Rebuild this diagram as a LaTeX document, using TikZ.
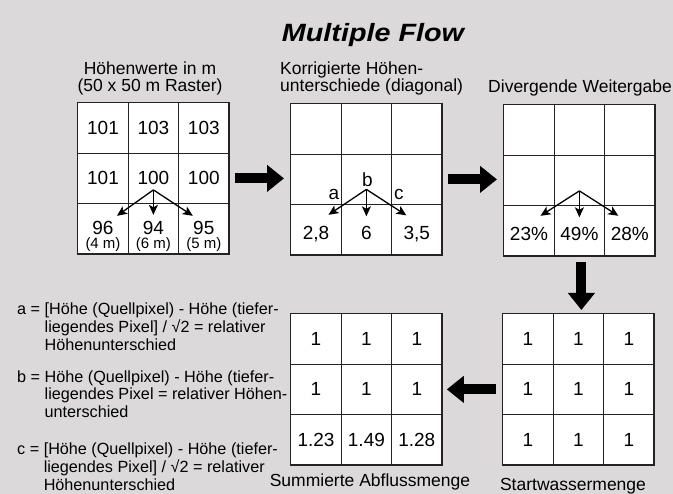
\documentclass[tikz,border=0pt]{standalone}
\usepackage{fontspec}
\setmainfont{Liberation Sans}
\usepackage{graphicx}
\usetikzlibrary{matrix,arrows.meta,calc}

\definecolor{bg}{RGB}{220,217,219}
\definecolor{gridline}{RGB}{35,35,35}

\newcommand\cellfont{\fontsize{19}{22}\selectfont}
\newcommand\headfont{\fontsize{17.5}{17.5}\selectfont}
\newcommand\notefont{\fontsize{16.2}{17.8}\selectfont}
\newcommand\subfont{\fontsize{15}{16}\selectfont}

\begin{document}
\begin{tikzpicture}[x=1pt,y=-1pt,
  cell/.style={draw=gridline, line width=1.2pt, fill=white, minimum size=50.4pt,
    inner sep=0pt, font=\cellfont},
  grid/.style={matrix of nodes, nodes in empty cells, nodes={cell},
    column sep=-1.2pt, row sep=-1.2pt, inner sep=0pt, anchor=north west},
  flow/.style={line width=1.3pt, draw=black,
    -{Stealth[length=10pt,width=9pt,inset=2.5pt]}},
  bigarrow/.style={line width=10pt, draw=black,
    -{Triangle[length=17pt,width=26pt]}},
  head/.style={font=\headfont, inner sep=0pt},
  val/.style={font=\cellfont, inner sep=0pt, anchor=base},
  sub/.style={font=\subfont, inner sep=0pt, anchor=base},
  note/.style={font=\notefont, inner sep=0pt, anchor=north west},
]
% background
\fill[bg] (0,0) rectangle (673,494);
\useasboundingbox (0,0) rectangle (673,494);

% title
\node[font=\fontsize{25}{28}\selectfont\bfseries\itshape, inner sep=0pt, anchor=base]
  (title) at (373,41.5) {\scalebox{1.15}[1]{Multiple Flow}};

% headings
\node[head, align=center, anchor=north] (h1) at (150,61.5)
  {Höhenwerte in m\\(50 x 50 m Raster)};
\node[head, align=left, anchor=north west] (h2) at (280,61.5)
  {Korrigierte Höhen-\\unterschiede (diagonal)};
\node[head, anchor=base] (h3) at (580,92.5) {Divergende Weitergabe};
\node[head, anchor=base] (h4) at (370,486.5) {Summierte Abflussmenge};
\node[head, anchor=base] (h5) at (573,490.5) {Startwassermenge};

% grid 1: elevations
\matrix (g1) [grid] at (77,102) {
  101 & 103 & 103 \\
  101 & 100 & 100 \\
      &     &     \\
};
\node[val] (z1) at ([yshift=-5.5pt]g1-3-1.center) {96};
\node[val] (z2) at ([yshift=-5.5pt]g1-3-2.center) {94};
\node[val] (z3) at ([yshift=-5.5pt]g1-3-3.center) {95};
\node[sub] (m1) at ([yshift=-20pt]g1-3-1.center) {(4 m)};
\node[sub] (m2) at ([yshift=-20pt]g1-3-2.center) {(6 m)};
\node[sub] (m3) at ([yshift=-20pt]g1-3-3.center) {(5 m)};
\coordinate (o1) at ([yshift=-11.5pt]g1-2-2.center);
\coordinate (e1a) at ([xshift=14pt,yshift=13pt]g1-3-1.center);
\coordinate (e1b) at ([yshift=14pt]g1-3-2.center);
\coordinate (e1c) at ([xshift=-11pt,yshift=13pt]g1-3-3.center);
\draw[flow] (o1) -- (e1a);
\draw[flow] (o1) -- (e1b);
\draw[flow] (o1) -- (e1c);

% grid 2: corrected differences
\matrix (g2) [grid] at (290,103) {
  & & \\
  & & \\
  & & \\
};
\node[val] (d1) at ([yshift=-10pt]g2-3-1.center) {2,8};
\node[val] (d2) at ([yshift=-10pt]g2-3-2.center) {6};
\node[val] (d3) at ([yshift=-10pt]g2-3-3.center) {3,5};
\node[val] (la) at ([xshift=18pt,yshift=-20pt]g2-2-1.center) {a};
\node[val] (lb) at ([xshift=1pt,yshift=-7pt]g2-2-2.center) {b};
\node[val] (lc) at ([xshift=-18pt,yshift=-20pt]g2-2-3.center) {c};
\coordinate (o2) at ([yshift=-10pt]g2-2-2.center);
\coordinate (e2a) at ([xshift=12.5pt,yshift=15pt]g2-3-1.center);
\coordinate (e2b) at ([yshift=13.5pt]g2-3-2.center);
\coordinate (e2c) at ([xshift=-10.5pt,yshift=14.5pt]g2-3-3.center);
\draw[flow] (o2) -- (e2a);
\draw[flow] (o2) -- (e2b);
\draw[flow] (o2) -- (e2c);

% grid 3: divergent distribution
\matrix (g3) [grid] at (503,104) {
  & & \\
  & & \\
  & & \\
};
\node[val] (p1) at ([yshift=-10pt]g3-3-1.center) {23\%};
\node[val] (p2) at ([yshift=-10pt]g3-3-2.center) {49\%};
\node[val] (p3) at ([yshift=-10pt]g3-3-3.center) {28\%};
\coordinate (o3) at ([yshift=-10.5pt]g3-2-2.center);
\coordinate (e3a) at ([xshift=11.5pt,yshift=15pt]g3-3-1.center);
\coordinate (e3b) at ([yshift=13.5pt]g3-3-2.center);
\coordinate (e3c) at ([xshift=-11.5pt,yshift=15pt]g3-3-3.center);
\draw[flow] (o3) -- (e3a);
\draw[flow] (o3) -- (e3b);
\draw[flow] (o3) -- (e3c);

% grid 4: accumulated runoff
\matrix (g4) [grid] at (290,313) {
  1 & 1 & 1 \\
  1 & 1 & 1 \\
  1.23 & 1.49 & 1.28 \\
};

% grid 5: initial water amount
\matrix (g5) [grid] at (502,313) {
  1 & 1 & 1 \\
  1 & 1 & 1 \\
  1 & 1 & 1 \\
};

% process arrows
\draw[bigarrow, shorten <=5pt, shorten >=6pt] (g1.east) -- (g1.east -| g2.west);
\draw[bigarrow, shorten <=5pt, shorten >=6pt] (g2.east) -- (g2.east -| g3.west);
\draw[bigarrow, shorten <=5pt, shorten >=3pt] ([xshift=2pt]g3.south) -- ([xshift=2pt]g3.south |- g5.north);
\draw[bigarrow, shorten <=6pt, shorten >=4pt] (g5.west) -- (g5.west -| g4.east);

% legend
\node[note] (na) at (17,301.5) {\begin{tabular}{@{}l@{\ }l@{}}
  a = & [Höhe (Quellpixel) - Höhe (tiefer-\\
      & liegendes Pixel] / √2 = relativer\\
      & Höhenunterschied
  \end{tabular}};
\node[note] (nb) at (17,369.5) {\begin{tabular}{@{}l@{\ }l@{}}
  b = & Höhe (Quellpixel) - Höhe (tiefer-\\
      & liegendes Pixel = relativer Höhen-\\
      & unterschied
  \end{tabular}};
\node[note] (nc) at (17,441.5) {\begin{tabular}{@{}l@{\ }l@{}}
  c = & [Höhe (Quellpixel) - Höhe (tiefer-\\
      & liegendes Pixel] / √2 = relativer\\
      & Höhenunterschied
  \end{tabular}};
\end{tikzpicture}
\end{document}
